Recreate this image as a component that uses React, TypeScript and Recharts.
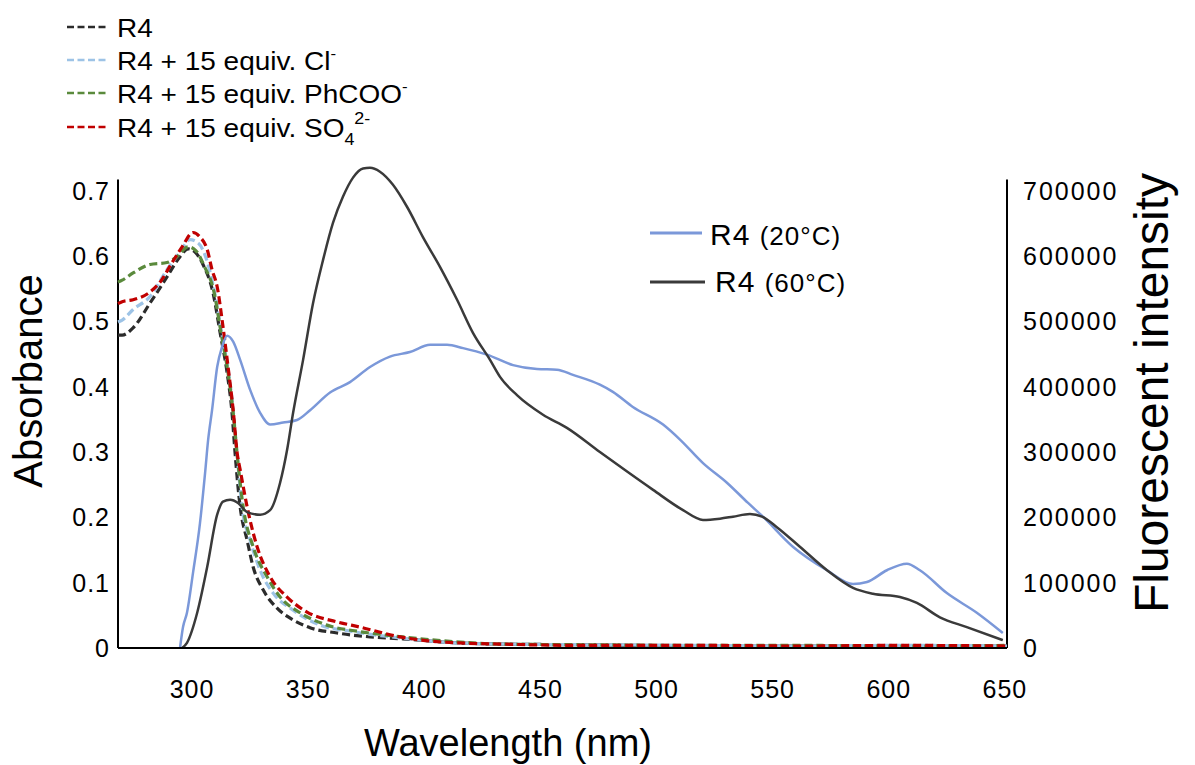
import { LineChart, Line, XAxis, YAxis, ReferenceLine } from "recharts";

const FONT = '"Liberation Sans", Arial, sans-serif';

// absorbance spectra: [wavelength nm, absorbance]
const R4_ABS: [number, number][] = [
  [268.1, 0.479], [269.9, 0.479], [274.6, 0.49], [281.9, 0.528], [289.2, 0.568], [294.8, 0.599],
  [298.3, 0.611], [301.3, 0.606], [304.7, 0.587], [309.0, 0.544], [312.1, 0.482], [315.1, 0.421],
  [317.2, 0.36], [318.5, 0.299], [320.7, 0.216], [323.7, 0.165], [326.3, 0.124], [330.6, 0.089],
  [336.6, 0.061], [343.5, 0.043], [350.8, 0.031], [362.4, 0.023], [376.6, 0.017], [390.8, 0.014],
  [408.1, 0.009], [432.6, 0.006], [468.3, 0.005], [518.7, 0.003], [561.7, 0.003], [604.8, 0.003],
  [650.9, 0.003],
];

const CL_ABS: [number, number][] = [
  [268.1, 0.499], [269.9, 0.502], [274.6, 0.518], [281.9, 0.538], [289.2, 0.579], [294.8, 0.606],
  [299.1, 0.625], [302.6, 0.62], [306.0, 0.597], [309.5, 0.548], [312.5, 0.487], [315.5, 0.426],
  [317.7, 0.364], [319.4, 0.296], [321.5, 0.216], [325.0, 0.165], [329.3, 0.119], [334.9, 0.084],
  [343.5, 0.058], [355.1, 0.035], [369.3, 0.025], [390.8, 0.015], [408.1, 0.009], [432.6, 0.006],
  [468.3, 0.005], [518.7, 0.004], [561.7, 0.003], [604.8, 0.004], [650.9, 0.003],
];

const PHCOO_ABS: [number, number][] = [
  [268.1, 0.56], [269.9, 0.563], [274.6, 0.574], [281.9, 0.587], [289.2, 0.59], [293.5, 0.599],
  [298.3, 0.614], [301.7, 0.608], [305.2, 0.585], [309.5, 0.544], [312.5, 0.482], [315.5, 0.421],
  [317.7, 0.36], [319.4, 0.296], [322.0, 0.216], [326.3, 0.155], [332.3, 0.109], [337.9, 0.078],
  [346.5, 0.054], [358.1, 0.035], [372.3, 0.025], [390.8, 0.017], [408.1, 0.011], [432.6, 0.006],
  [468.3, 0.005], [518.7, 0.004], [561.7, 0.004], [604.8, 0.003], [650.9, 0.004],
];

const SO4_ABS: [number, number][] = [
  [268.1, 0.527], [269.9, 0.53], [274.6, 0.533], [281.9, 0.545], [286.2, 0.56], [291.4, 0.59],
  [295.7, 0.614], [300.4, 0.636], [303.4, 0.629], [306.5, 0.61], [308.6, 0.579], [310.8, 0.553],
  [313.3, 0.492], [315.5, 0.43], [317.7, 0.364], [319.4, 0.299], [320.7, 0.273], [323.7, 0.216],
  [328.0, 0.155], [333.6, 0.109], [340.9, 0.078], [349.5, 0.055], [362.4, 0.04], [372.3, 0.032],
  [389.5, 0.017], [408.1, 0.009], [432.6, 0.006], [468.3, 0.004], [518.7, 0.004], [561.7, 0.003],
  [604.8, 0.004], [650.9, 0.003],
];

// fluorescence spectra: [wavelength nm, intensity]
const R4_20C: [number, number][] = [
  [294.8, 0], [296.1, 32000], [297.8, 54000], [300.4, 115000], [303.4, 191000], [305.6, 268000],
  [306.9, 318000], [308.6, 364000], [310.8, 430000], [312.9, 461000], [315.1, 478000], [317.7, 469000],
  [320.7, 441000], [325.0, 395000], [329.3, 360000], [333.6, 342000], [339.2, 345000], [345.2, 349000],
  [350.8, 364000], [359.4, 391000], [368.0, 407000], [376.6, 430000], [385.2, 446000], [393.8, 453000],
  [402.5, 464000], [409.8, 464000], [416.7, 459000], [427.0, 449000], [438.2, 433000], [448.5, 427000],
  [457.1, 426000], [464.0, 418000], [475.6, 403000], [481.2, 392000], [489.8, 369000], [502.8, 342000],
  [510.1, 319000], [520.0, 283000], [530.3, 253000], [539.4, 222000], [545.8, 201000], [558.7, 155000],
  [573.4, 119000], [584.6, 98000], [590.6, 101000], [599.2, 119000], [607.8, 129000], [613.4, 119000],
  [625.0, 84000], [637.9, 54000], [649.1, 23000],
];

const R4_60C: [number, number][] = [
  [295.7, 0], [297.8, 8000], [302.2, 54000], [306.5, 124000], [310.8, 204000], [313.3, 224000],
  [316.4, 227000], [319.8, 222000], [323.7, 208000], [329.3, 204000], [333.6, 211000], [337.9, 253000],
  [340.9, 303000], [343.5, 360000], [347.8, 441000], [352.1, 528000], [356.4, 594000], [360.7, 651000],
  [365.0, 691000], [369.3, 720000], [373.6, 734000], [376.6, 735000], [380.9, 729000], [386.5, 709000],
  [392.6, 675000], [399.4, 629000], [406.8, 583000], [414.1, 533000], [421.0, 482000], [428.3, 441000],
  [432.6, 415000], [439.9, 387000], [451.1, 357000], [461.4, 337000], [475.6, 300000], [487.3, 270000],
  [498.5, 242000], [511.4, 211000], [520.0, 196000], [527.3, 198000], [532.9, 201000], [540.2, 205000],
  [545.4, 201000], [551.8, 185000], [561.7, 155000], [573.4, 119000], [584.6, 92000], [593.2, 83000],
  [604.8, 78000], [612.1, 69000], [622.0, 47000], [633.6, 32000], [649.1, 12000],
];

const X_TICKS = [300, 350, 400, 450, 500, 550, 600, 650];
const ABS_TICKS = [0, 0.1, 0.2, 0.3, 0.4, 0.5, 0.6, 0.7];
const FL_TICKS = [0, 100000, 200000, 300000, 400000, 500000, 600000, 700000];

const X_MIN = 268.1;
const X_MAX = 650.9;

const ABS_SERIES = [
  { key: "r4", color: "#2b2b2b", data: R4_ABS },
  { key: "cl", color: "#9dc3e6", data: CL_ABS },
  { key: "phcoo", color: "#5a8a3c", data: PHCOO_ABS },
  { key: "so4", color: "#c00000", data: SO4_ABS },
];

const FL_SERIES = [
  { key: "20c", color: "#7b98d9", data: R4_20C },
  { key: "60c", color: "#3a3a3a", data: R4_60C },
];

const toRows = (pts: [number, number][]) => pts.map(([nm, v]) => ({ nm, v }));

const tickStyle = { fontSize: 25, fill: "#000", fontFamily: FONT, letterSpacing: 1 };
const rightTickStyle = { ...tickStyle, letterSpacing: 2 };

function Overlay() {
  const legendRows = [
    { color: "#2b2b2b", y: 37, label: <tspan>R4</tspan> },
    {
      color: "#9dc3e6",
      y: 70,
      label: (
        <>
          <tspan>R4 + 15 equiv. Cl</tspan>
          <tspan fontSize={15} dy={-11}>-</tspan>
        </>
      ),
    },
    {
      color: "#5a8a3c",
      y: 103,
      label: (
        <>
          <tspan>R4 + 15 equiv. PhCOO</tspan>
          <tspan fontSize={15} dy={-11}>-</tspan>
        </>
      ),
    },
    {
      color: "#c00000",
      y: 137,
      label: (
        <>
          <tspan>R4 + 15 equiv. SO</tspan>
          <tspan fontSize={16} dy={8}>4</tspan>
          <tspan fontSize={16} dy={-21}>2-</tspan>
        </>
      ),
    },
  ];

  return (
    <svg
      width={1195}
      height={765}
      style={{ position: "absolute", left: 0, top: 0, pointerEvents: "none", fontFamily: FONT }}
    >
      {legendRows.map((r) => (
        <g key={r.y}>
          <line x1={67} x2={108} y1={r.y - 10} y2={r.y - 10} stroke={r.color} strokeWidth={2.5} strokeDasharray="7 3.5" />
          <text transform={`translate(117, ${r.y}) scale(1.12, 1)`} fontSize={25} fill="#000">
            {r.label}
          </text>
        </g>
      ))}

      <line x1={650} x2={702} y1={233} y2={233} stroke="#7b98d9" strokeWidth={3} />
      <text x={710} y={245} fill="#000" letterSpacing={1}>
        <tspan fontSize={30}>R4 </tspan>
        <tspan fontSize={26}>(20°C)</tspan>
      </text>
      <line x1={650} x2={705} y1={282} y2={282} stroke="#3a3a3a" strokeWidth={3} />
      <text x={715} y={292} fill="#000" letterSpacing={1}>
        <tspan fontSize={30}>R4 </tspan>
        <tspan fontSize={26}>(60°C)</tspan>
      </text>

      <text transform="translate(42, 381) rotate(-90)" textAnchor="middle" fontSize={40} fill="#000">
        Absorbance
      </text>
      <text transform="translate(1168, 393) rotate(-90)" textAnchor="middle" fontSize={48} fill="#000">
        Fluorescent intensity
      </text>
      <text x={508} y={756} textAnchor="middle" fontSize={38} fill="#000">
        Wavelength (nm)
      </text>
    </svg>
  );
}

export default function App() {
  return (
    <div style={{ position: "absolute", left: 0, top: 0, width: 1195, height: 765, background: "#fff" }}>
      <LineChart width={1195} height={765} margin={{ top: 158, right: 0, bottom: 57, left: 0 }}>
        <XAxis
          type="number"
          dataKey="nm"
          domain={[X_MIN, X_MAX]}
          ticks={X_TICKS}
          height={60}
          tickLine={false}
          tickMargin={26}
          axisLine={{ stroke: "#000", strokeWidth: 2 }}
          tick={tickStyle}
        />
        <YAxis
          yAxisId="abs"
          orientation="left"
          type="number"
          domain={[0, 0.75]}
          ticks={ABS_TICKS}
          width={118}
          tickLine={false}
          axisLine={false}
          tick={tickStyle}
        />
        <YAxis
          yAxisId="fl"
          orientation="right"
          type="number"
          domain={[0, 750000]}
          ticks={FL_TICKS}
          width={188}
          tickLine={false}
          axisLine={false}
          tickMargin={10}
          tick={rightTickStyle}
        />
        <ReferenceLine
          yAxisId="abs"
          ifOverflow="visible"
          segment={[{ x: X_MIN, y: 0 }, { x: X_MIN, y: 0.717 }]}
          stroke="#000"
          strokeWidth={2}
        />
        <ReferenceLine
          yAxisId="abs"
          ifOverflow="visible"
          segment={[{ x: X_MAX, y: 0 }, { x: X_MAX, y: 0.717 }]}
          stroke="#000"
          strokeWidth={2}
        />
        {ABS_SERIES.map((s) => (
          <Line
            key={s.key}
            yAxisId="abs"
            data={toRows(s.data)}
            dataKey="v"
            type="monotone"
            stroke={s.color}
            strokeWidth={3.2}
            strokeDasharray="8 4"
            dot={false}
            isAnimationActive={false}
          />
        ))}
        {FL_SERIES.map((s) => (
          <Line
            key={s.key}
            yAxisId="fl"
            data={toRows(s.data)}
            dataKey="v"
            type="monotone"
            stroke={s.color}
            strokeWidth={2.5}
            dot={false}
            isAnimationActive={false}
          />
        ))}
      </LineChart>
      <Overlay />
    </div>
  );
}
